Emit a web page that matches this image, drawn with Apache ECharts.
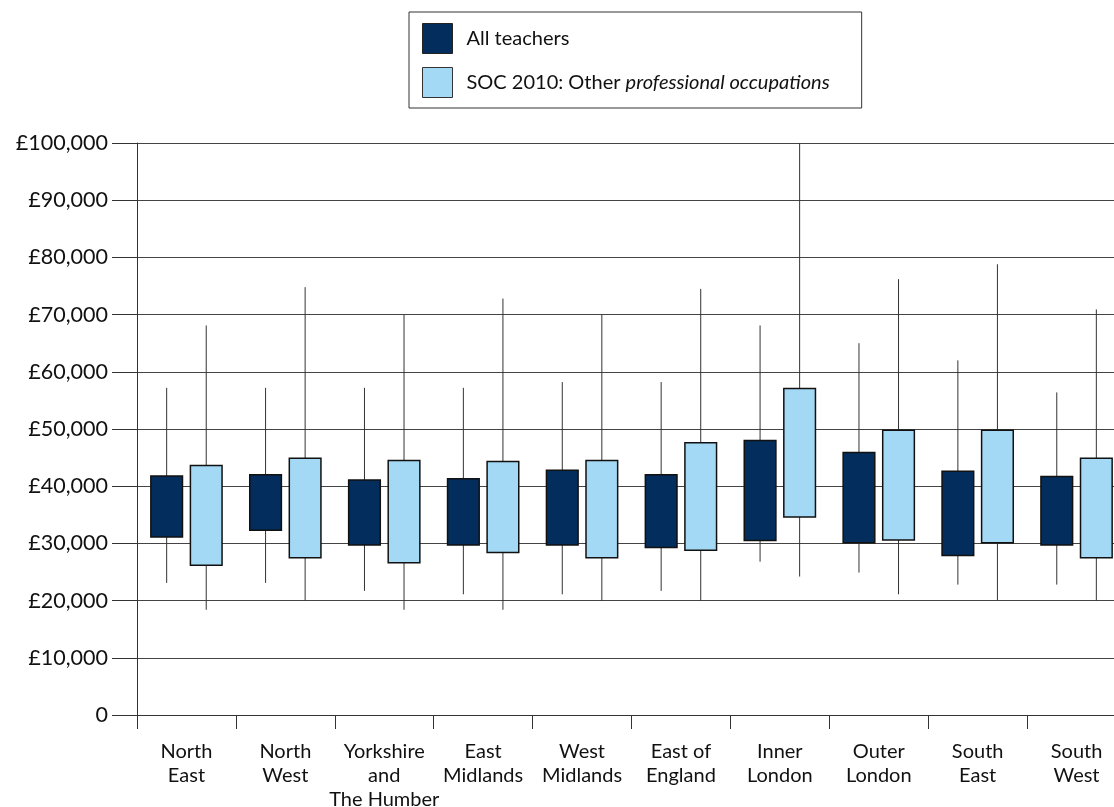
<!DOCTYPE html>
<html>
<head>
<meta charset="utf-8">
<script src="https://cdn.jsdelivr.net/npm/echarts@6/dist/echarts.min.js"></script>
<style>
html,body{margin:0;padding:0;background:#fff;overflow:hidden;}
#chart{width:1114px;height:807px;}
</style>
</head>
<body>
<div id="chart"></div>
<script>
const categories = ['North\nEast','North\nWest','Yorkshire\nand\nThe Humber','East\nMidlands','West\nMidlands','East of\nEngland','Inner\nLondon','Outer\nLondon','South\nEast','South\nWest'];
const seriesNames = ['All teachers','SOC 2010: Other professional occupations'];

// All teachers: whisker low, box low, box high, whisker high
const teacherMin = [23100, 23100, 21700, 21100, 21100, 21700, 26800, 24900, 22800, 22800];
const teacherQ1  = [31100, 32300, 29700, 29700, 29700, 29300, 30500, 30100, 27900, 29700];
const teacherQ3  = [41800, 42000, 41100, 41300, 42800, 42000, 48000, 45900, 42600, 41700];
const teacherMax = [57200, 57200, 57200, 57200, 58200, 58200, 68100, 65000, 62000, 56400];

// SOC 2010: Other professional occupations
const otherMin = [18400, 20000, 18400, 18400, 20000, 20000, 24200, 21100, 20100, 20000];
const otherQ1  = [26200, 27500, 26600, 28400, 27500, 28800, 34600, 30600, 30100, 27500];
const otherQ3  = [43600, 44900, 44500, 44300, 44500, 47600, 57100, 49800, 49800, 44900];
const otherMax = [68100, 74800, 70000, 72800, 70000, 74500, 100000, 76200, 78800, 70900];

const yTicks = [0,10000,20000,30000,40000,50000,60000,70000,80000,90000,100000];

const darkColor = '#022d5c';
const lightColor = '#a3d9f5';
const FONT = 'Lato';

function build(mins, q1s, q3s, maxs){
  return categories.map((c,i)=>[i, mins[i], q1s[i], q3s[i], maxs[i]]);
}

function makeRender(offsetFrac, fill){
  return function(params, api){
    const cat = api.value(0);
    const band = api.size([1,0])[0];
    const dx = offsetFrac*band;
    const w = 0.32*band;
    const pMin = api.coord([cat, api.value(1)]);
    const pQ1 = api.coord([cat, api.value(2)]);
    const pQ3 = api.coord([cat, api.value(3)]);
    const pMax = api.coord([cat, api.value(4)]);
    const x = pMin[0] + dx;
    return {
      type:'group',
      children:[
        {type:'line', shape:{x1:x,y1:pMin[1],x2:x,y2:pMax[1]}, style:{stroke:'#333',lineWidth:1}},
        {type:'rect', shape:{x:x-w/2,y:pQ3[1],width:w,height:pQ1[1]-pQ3[1]}, style:{fill:fill,stroke:'#111',lineWidth:1.5}}
      ]
    };
  };
}

function fmt(v){
  if(v===0) return '0';
  return '£' + String(v).replace(/\B(?=(\d{3})+(?!\d))/g, ',');
}

const chart = echarts.init(document.getElementById('chart'), null, {renderer:'canvas'});
chart.setOption({
  animation:false,
  backgroundColor:'#fff',
  textStyle:{fontFamily:FONT},
  legend:{
    left:409, top:12,
    orient:'vertical',
    padding:[11,32,10,13],
    borderColor:'#333', borderWidth:1,
    itemWidth:30, itemHeight:30, itemGap:13,
    selectedMode:false,
    data:[
      {name:seriesNames[0], icon:'rect', itemStyle:{color:darkColor, borderColor:'#222', borderWidth:1}},
      {name:seriesNames[1], icon:'rect', itemStyle:{color:lightColor, borderColor:'#333', borderWidth:1}}
    ],
    formatter:function(name){
      if(name===seriesNames[1]) return '{n|SOC 2010: Other }{i|professional occupations}';
      return '{n|' + name + '}';
    },
    textStyle:{
      fontFamily:FONT, fontSize:20, color:'#111',
      rich:{
        n:{fontFamily:FONT, fontSize:20, color:'#111', padding:[0,0,0,9]},
        i:{fontFamily:FONT, fontSize:20, color:'#111', fontStyle:'italic'}
      }
    }
  },
  grid:{left:137, right:-12, top:143, bottom:92, containLabel:false, outerBoundsMode:'none'},
  xAxis:{
    type:'category',
    data:categories,
    boundaryGap:true,
    axisLine:{show:true, lineStyle:{color:'#333', width:1}},
    axisTick:{show:true, length:14, lineStyle:{color:'#333', width:1}},
    axisLabel:{fontFamily:FONT, fontSize:20, color:'#111', margin:25, lineHeight:24, interval:0, hideOverlap:false},
    splitLine:{show:false}
  },
  yAxis:{
    type:'value',
    min:0, max:100000, interval:10000,
    axisLine:{show:true, lineStyle:{color:'#333', width:1}},
    axisTick:{show:true, length:25, lineStyle:{color:'#333', width:1}},
    axisLabel:{fontFamily:FONT, fontSize:21.5, color:'#111', margin:29, formatter:fmt},
    splitLine:{show:true, lineStyle:{color:'#444', width:1}}
  },
  series:[
    {
      name:seriesNames[0], type:'custom',
      itemStyle:{color:darkColor},
      encode:{x:0, y:[1,2,3,4]},
      data:build(teacherMin, teacherQ1, teacherQ3, teacherMax),
      renderItem:makeRender(-0.2, darkColor),
      clip:false
    },
    {
      name:seriesNames[1], type:'custom',
      itemStyle:{color:lightColor},
      encode:{x:0, y:[1,2,3,4]},
      data:build(otherMin, otherQ1, otherQ3, otherMax),
      renderItem:makeRender(0.2, lightColor),
      clip:false
    }
  ]
});
</script>
</body>
</html>
